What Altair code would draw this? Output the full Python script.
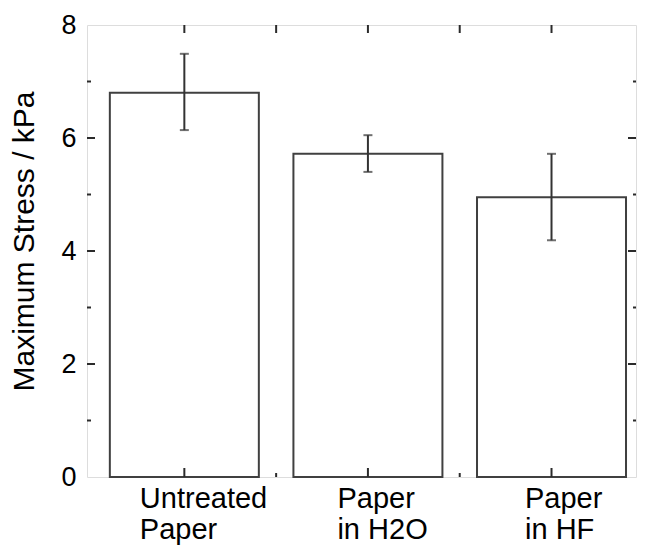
import altair as alt
import pandas as pd

# ---- data ----
positions = [1, 2, 3]
line1 = ["Untreated", "Paper", "Paper"]
line2 = ["Paper", "in H2O", "in HF"]
means = [6.80, 5.72, 4.95]
err_lo = [6.14, 5.40, 4.19]
err_hi = [7.49, 6.05, 5.72]

y_major = [2, 4, 6]
y_minor = [1, 3, 5, 7]
x_major = [1, 2, 3]
x_minor = [1.5, 2.5]
y_labels = [0, 2, 4, 6, 8]
y_title = "Maximum Stress / kPa"

W, H = 549, 452
FONT = "Liberation Sans"
INK = "#2b2b2b"

df = pd.DataFrame({"pos": positions, "mean": means, "lo": err_lo, "hi": err_hi})
ymaj = pd.DataFrame({"v": y_major})
ymin = pd.DataFrame({"v": y_minor})
xmaj = pd.DataFrame({"v": x_major})
xmin = pd.DataFrame({"v": x_minor})
xall = pd.DataFrame({"v": x_major + x_minor})

label_expr = " : ".join(
    f"datum.value == {p} ? ['{a}', '{b}']" for p, a, b in zip(positions[:-1], line1[:-1], line2[:-1])
) + f" : ['{line1[-1]}', '{line2[-1]}']"

xscale = alt.Scale(domain=[0.497, 3.433], nice=False, zero=False)
yscale = alt.Scale(domain=[0, 8], nice=False, zero=True)

xaxis = alt.Axis(
    values=x_major, labelExpr=label_expr, title=None, domain=False, ticks=False, grid=False,
    labelFont=FONT, labelFontSize=29, labelColor="black", labelAlign="left",
    labelBaseline="top", labelLineHeight=31, labelPadding=7,
    labelOffset={"condition": [{"test": "datum.value == 1", "value": -45},
                               {"test": "datum.value == 2", "value": -31}],
                 "value": -27},
)
yaxis = alt.Axis(
    values=y_labels, format="d", title=y_title, domain=False, ticks=False, grid=False,
    labelFont=FONT, labelFontSize=27, labelColor="black", labelPadding=11,
    titleFont=FONT, titleFontSize=30, titleFontWeight="normal", titleColor="black",
    titlePadding=21, titleY=216,
)

bars = alt.Chart(df).mark_bar(size=149, fill="white", stroke="#404040", strokeWidth=2).encode(
    x=alt.X("pos:Q", scale=xscale, axis=xaxis),
    y=alt.Y("mean:Q", scale=yscale, axis=yaxis),
)

errs = alt.Chart(df).mark_errorbar(ticks=True, size=9, thickness=2, color="#333333").encode(
    x=alt.X("pos:Q", scale=xscale, title=None),
    y=alt.Y("lo:Q", scale=yscale, title=y_title),
    y2="hi:Q",
)

def ytick(data, x0, x1):
    return alt.Chart(data).mark_rule(color=INK, strokeWidth=2).encode(
        y=alt.Y("v:Q", scale=yscale, title=y_title), x=alt.value(x0), x2=alt.value(x1))

def xtick(data, y0, y1):
    return alt.Chart(data).mark_rule(color=INK, strokeWidth=2).encode(
        x=alt.X("v:Q", scale=xscale, title=None), y=alt.value(y0), y2=alt.value(y1))

layers = [
    bars, errs,
    ytick(ymaj, 0, 8), ytick(ymin, 0, 4),
    ytick(ymaj, W - 8, W), ytick(ymin, W - 3, W),
    xtick(xmaj, H - 9, H), xtick(xmin, H - 4, H),
    xtick(xall, 0, 8),
]

chart = alt.layer(*layers).properties(
    width=W, height=H,
    autosize=alt.AutoSizeParams(type="none"),
    padding={"left": 79, "top": 17, "right": 1, "bottom": 68},
).configure_view(stroke=INK, strokeWidth=2).configure(background="white")

chart.save("out.html", embed_options={"renderer": "svg", "actions": False})
